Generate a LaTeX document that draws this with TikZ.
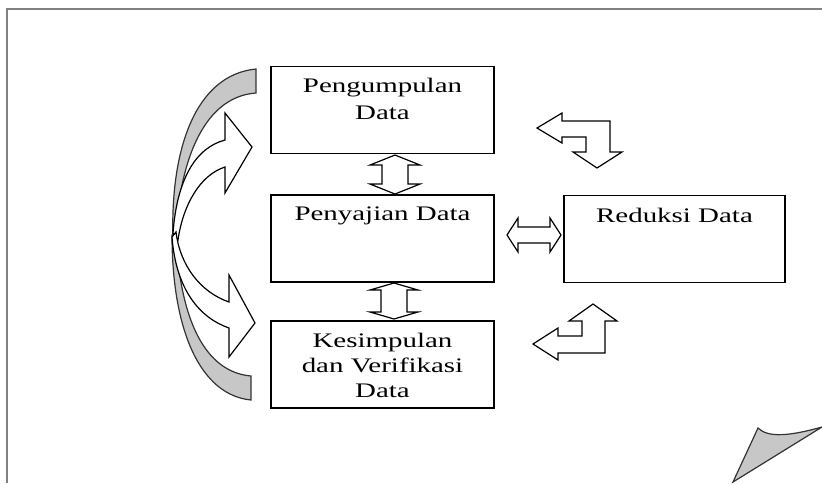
\documentclass[tikz,border=0pt]{standalone}
\usepackage{fontspec}
\setmainfont{Liberation Serif}[FakeStretch=1.4]
\begin{document}
\begin{tikzpicture}[x=0.75pt,y=-0.75pt]
\tikzset{
  box/.style={draw=black, line width=1.1pt, fill=white, minimum width=167.25pt, minimum height=65pt, inner sep=0pt},
  txt/.style={inner sep=0pt, anchor=base, font=\fontsize{15.5pt}{18pt}\selectfont},
  blockarrow/.style={draw=black, line width=0.9pt, fill=white, line join=miter},
  band/.style={draw=black!80, line width=0.9pt, fill=black!22},
  frame/.style={draw=black!50, line width=1.6pt}
}
\useasboundingbox (0,0) rectangle (822,483);
% page frame
\draw[frame] (7,483) -- (7,9) -- (822,9);
% page corner
\draw[band] (733,482) -- (758,428) .. controls (768,438) and (790,436) .. (822,427) -- cycle;

% boxes
\node[box] (b1) at (382.5,110) {};
\node[box] (b2) at (382.5,238.5) {};
\node[box] (b3) at (382.5,364.5) {};
\node[box, minimum width=165.75pt] (b4) at (674.5,239) {};

% texts
\node[txt] (t1a) at (382.5,92) {Pengumpulan};
\node[txt] (t1b) at (382.5,119) {Data};
\node[txt] (t2) at (382.5,220) {Penyajian Data};
\node[txt] (t3a) at (382.5,347) {Kesimpulan};
\node[txt] (t3b) at (382.5,372) {dan Verifikasi};
\node[txt] (t3c) at (382.5,397) {Data};
\node[txt] (t4) at (674.5,222) {Reduksi Data};

% vertical double arrows
\draw[blockarrow] (395,155) -- (420,165) -- (408,165) -- (408,184) -- (420,184) -- (395,194)
  -- (370,184) -- (382,184) -- (382,165) -- (370,165) -- cycle;
\draw[blockarrow] (394,283) -- (418,290) -- (407,290) -- (407,312) -- (418,312) -- (394,319)
  -- (370,312) -- (381,312) -- (381,290) -- (370,290) -- cycle;
% horizontal double arrow
\draw[blockarrow] (507,235) -- (518,218) -- (518,227) -- (550,227) -- (550,218) -- (561,235)
  -- (550,252) -- (550,243) -- (518,243) -- (518,252) -- cycle;

% bent arrow top right
\draw[blockarrow] (537,128) -- (562,113) -- (562,121) -- (610,121) -- (610,152) -- (622,152)
  -- (597,168) -- (573,152) -- (586,152) -- (586,137) -- (562,137) -- (562,143) -- cycle;
% bent arrow bottom right
\draw[blockarrow] (593,304) -- (617,321) -- (605,321) -- (605,353) -- (558,353) -- (558,360)
  -- (533,344) -- (558,328) -- (558,336) -- (582,336) -- (582,321) -- (569,321) -- cycle;

% left curved bands
\draw[band] (173,240) .. controls (170,150) and (195,75) .. (256,69) -- (256,93)
  .. controls (200,97) and (178,170) .. (176,240) -- cycle;
\draw[band] (172,235) .. controls (172,330) and (200,395) .. (251,400) -- (251,376)
  .. controls (205,372) and (180,320) .. (176,235) -- cycle;

% left curved arrows
\draw[blockarrow] (173,233) .. controls (177,180) and (195,148) .. (225,140)
  -- (225,113) -- (252,147) -- (225,193) -- (225,167)
  .. controls (200,175) and (183,205) .. (178,240) -- cycle;
\draw[blockarrow] (176,232) .. controls (180,265) and (200,292) .. (229,302)
  -- (229,275) -- (255,323) -- (229,357) -- (229,328)
  .. controls (200,318) and (176,290) .. (172,237) -- cycle;
\end{tikzpicture}
\end{document}
